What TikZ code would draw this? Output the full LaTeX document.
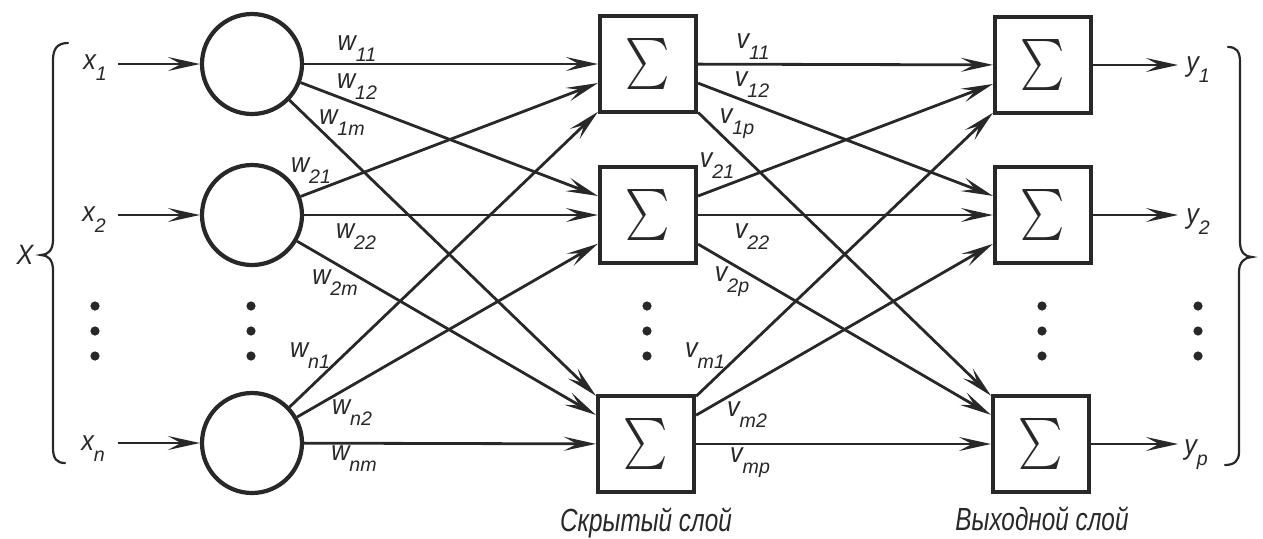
\documentclass[tikz,border=0pt]{standalone}
\usepackage{fontspec}
\usepackage{graphicx}
\newfontfamily\lblfont{Liberation Sans}[FakeStretch=0.9]
\newfontfamily\subfont{Liberation Sans}
\newfontfamily\capfont{Liberation Sans}[FakeStretch=0.76]
\usetikzlibrary{arrows.meta}
\definecolor{ink}{RGB}{40,40,40}
\newcommand{\wl}[2]{{\lblfont\itshape\fontsize{14}{15}\selectfont #1\raisebox{-5.5pt}{\subfont\itshape\fontsize{9.8}{12}\selectfont #2}}}
\newcommand{\sig}{\scalebox{2.1}[2.55]{$\sum$}}
\begin{document}
\begin{tikzpicture}[x=0.5pt,y=-0.5pt,
  every node/.style={text=ink},
  neuron/.style={circle,draw=ink,line width=2.1pt,minimum size=50pt,inner sep=0pt},
  sumbox/.style={rectangle,draw=ink,line width=2.1pt,minimum size=48pt,inner sep=0pt},
  conn/.style={draw=ink,line width=1.4pt},
  arr/.style={conn,-{Stealth[length=16pt,width=7pt,inset=6.5pt]}},
  lbl/.style={inner sep=0pt},
  caplbl/.style={inner sep=0pt,font=\capfont\itshape\fontsize{16}{18}\selectfont},
  brc/.style={draw=ink,line width=1.1pt,line cap=round},
  dotm/.style={fill=ink}]
\useasboundingbox (0,0) rectangle (1263,538);
\fill[white] (0,0) rectangle (1263,538);

% neurons
\node[neuron] (c1) at (252,64) {};
\node[neuron] (c2) at (252,215) {};
\node[neuron] (c3) at (252,443) {};
% hidden layer
\node[sumbox] (h1) at (648,64) {\sig};
\node[sumbox] (h2) at (648,215) {\sig};
\node[sumbox] (h3) at (646,444) {\sig};
% output layer
\node[sumbox] (o1) at (1043,65) {\sig};
\node[sumbox] (o2) at (1043,215) {\sig};
\node[sumbox] (o3) at (1041,444) {\sig};

% inputs
\coordinate (i1) at (118,64);
\coordinate (i2) at (118,215);
\coordinate (i3) at (118,443);
\draw[arr] (i1) -- (c1);
\draw[arr] (i2) -- (c2);
\draw[arr] (i3) -- (c3);
\node[lbl] (x1) at (95,68) {\wl{x}{1}};
\node[lbl] (x2) at (94,220) {\wl{x}{2}};
\node[lbl] (xn) at (93,449) {\wl{x}{n}};

% outputs
\coordinate (e1) at (1178,65);
\coordinate (e2) at (1178,215);
\coordinate (e3) at (1178,444);
\draw[arr] (o1) -- (e1);
\draw[arr] (o2) -- (e2);
\draw[arr] (o3) -- (e3);
\node[lbl] (y1) at (1198,70) {\wl{y}{1}};
\node[lbl] (y2) at (1198,222) {\wl{y}{2}};
\node[lbl] (yp) at (1196,455) {\wl{y}{p}};

% connections
\foreach \i in {1,2,3}{
  \foreach \j in {1,2,3}{
    \draw[arr] (c\i) -- (h\j);
    \draw[arr] (h\i) -- (o\j);
  }
}

% weight labels
\node[lbl] (w11) at (357,49) {\wl{w}{11}};
\node[lbl] (w12) at (357,87) {\wl{w}{12}};
\node[lbl] (w1m) at (342,123) {\wl{w}{1m}};
\node[lbl] (w21) at (311,171) {\wl{w}{21}};
\node[lbl] (w22) at (356,237) {\wl{w}{22}};
\node[lbl] (w2m) at (335,283) {\wl{w}{2m}};
\node[lbl] (wn1) at (310,356) {\wl{w}{n1}};
\node[lbl] (wn2) at (352,413) {\wl{w}{n2}};
\node[lbl] (wnm) at (354,459) {\wl{w}{nm}};

\node[lbl] (v11) at (753,47) {\wl{v}{11}};
\node[lbl] (v12) at (752,85) {\wl{v}{12}};
\node[lbl] (v1p) at (737,124) {\wl{v}{1p}};
\node[lbl] (v21) at (717,166) {\wl{v}{21}};
\node[lbl] (v22) at (752,237) {\wl{v}{22}};
\node[lbl] (v2p) at (732,282) {\wl{v}{2p}};
\node[lbl] (vm1) at (705,356) {\wl{v}{m1}};
\node[lbl] (vm2) at (747,415) {\wl{v}{m2}};
\node[lbl] (vmp) at (750,463) {\wl{v}{mp}};

% dots
\foreach \x in {95,251,647,1042,1198}{
  \foreach \y in {306,331,356}{
    \fill[dotm] (\x,\y) circle (2.3pt);
  }
}

% braces
\draw[brc] (68,43) .. controls (58,43) and (53,48) .. (53,60) -- (53,240)
  .. controls (53,250) and (48,255) .. (41,255)
  .. controls (48,255) and (53,260) .. (53,270) -- (53,448)
  .. controls (53,459) and (57,463) .. (65,463);
\node[lbl] (X) at (25,255) {\lblfont\itshape\fontsize{14}{15}\selectfont X};
\draw[brc] (1228,47) .. controls (1236,47) and (1240,51) .. (1240,62) -- (1240,242)
  .. controls (1240,252) and (1245,257) .. (1252,257)
  .. controls (1245,257) and (1239,262) .. (1239,272) -- (1239,452)
  .. controls (1239,461) and (1234,465) .. (1225,465);

% captions
\node[caplbl] (hid) at (646,523) {Скрытый слой};
\node[caplbl] (outl) at (1042,519) {Выходной слой};
\end{tikzpicture}
\end{document}
